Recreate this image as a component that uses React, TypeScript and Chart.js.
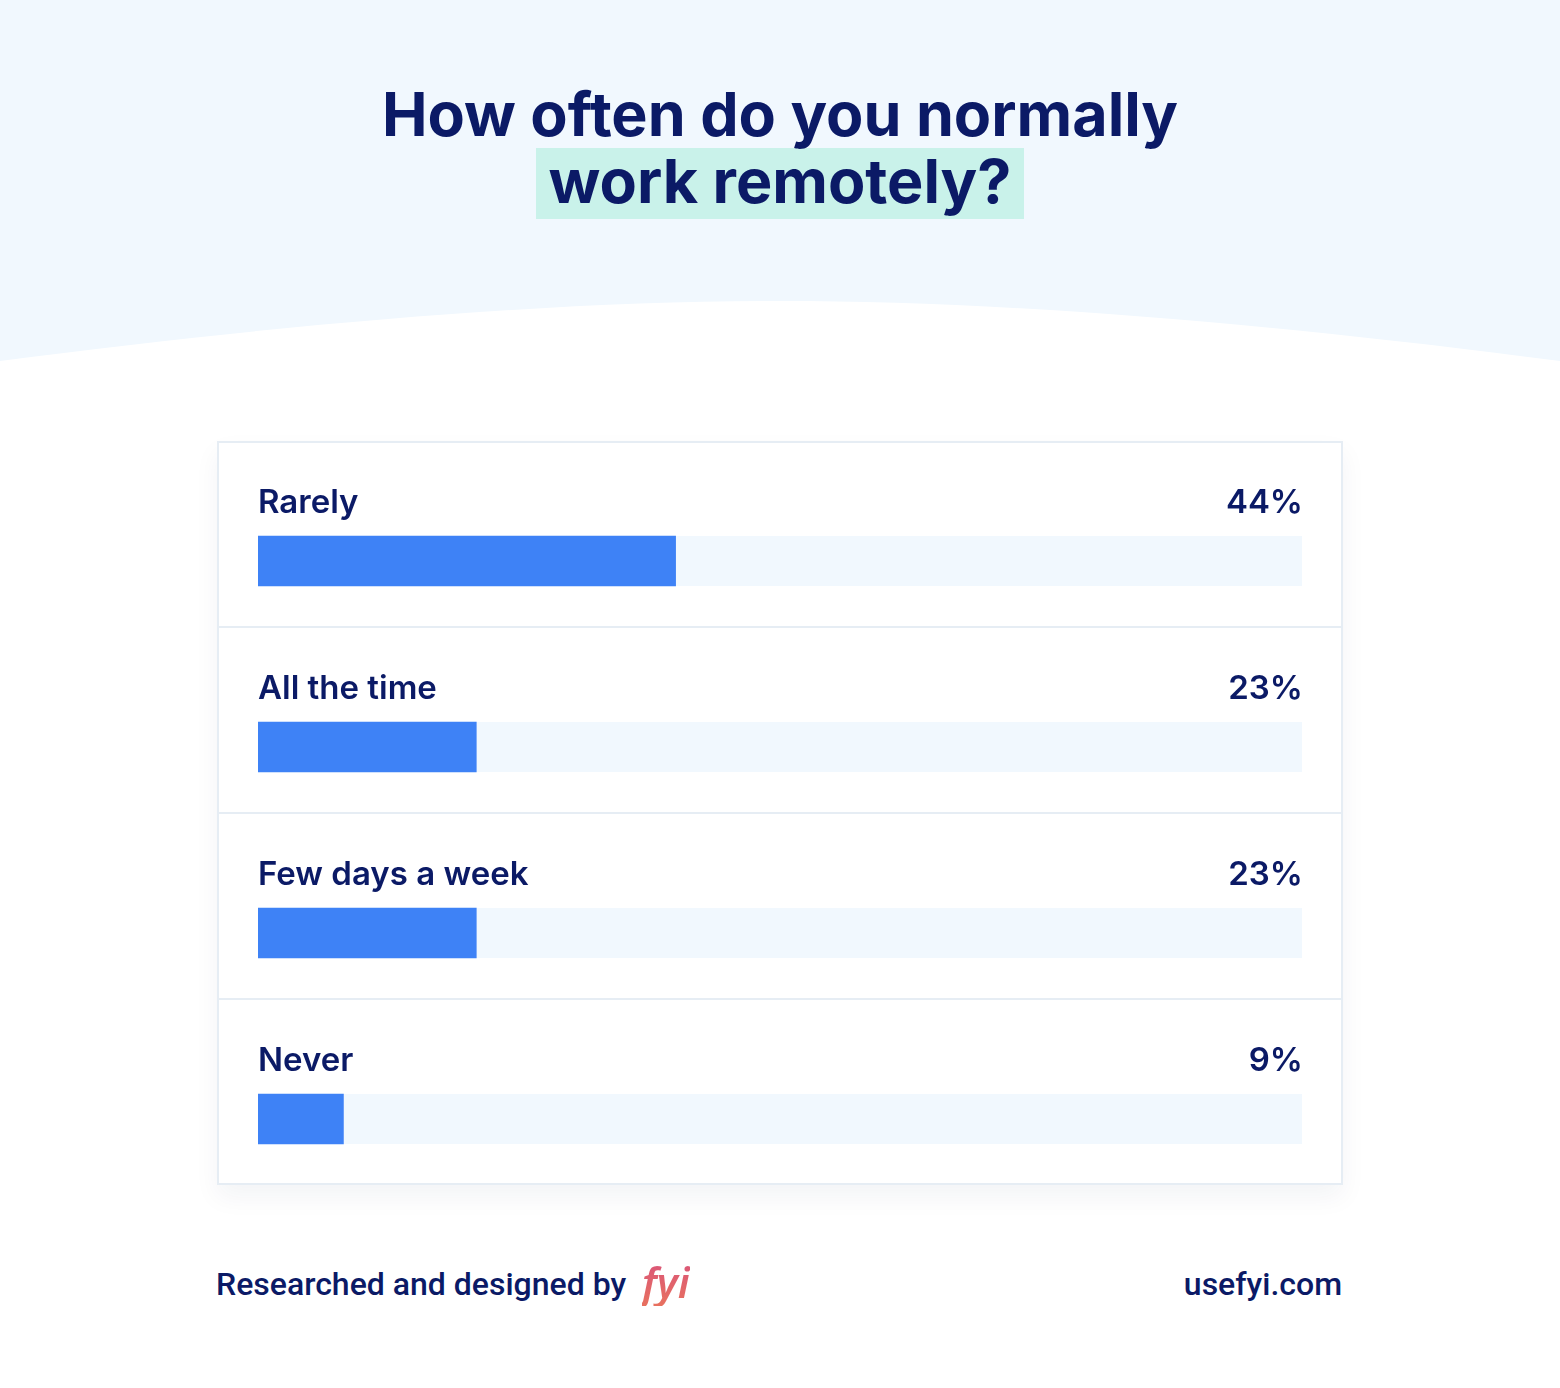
import React, { useEffect, useRef } from "react";
import { Chart, registerables } from "chart.js";

Chart.register(...registerables);

const categories = ["Rarely", "All the time", "Few days a week", "Never"];
const shares = [44, 23, 23, 9];
const valueLabels = ["44%", "23%", "23%", "9%"];
const scaleMax = 110;

const NAVY = "#0b1a66";
const BAR = "#3e82f6";
const TRACK = "#f1f8fe";
const BORDER = "#e6edf4";
const LABEL_FONT = "600 33px Inter, 'Noto Sans', sans-serif";

const CARD_W = 1126;
const CARD_H = 744;
const ROW_SHIFT = 27;

const cardPlugin = {
  id: "cardPlugin",
  beforeDatasetsDraw(chart: any) {
    const { ctx, chartArea } = chart;
    const meta = chart.getDatasetMeta(0);
    const yScale = chart.scales.y;
    ctx.save();
    ctx.fillStyle = BORDER;
    for (let i = 1; i < categories.length; i++) {
      const yb = (yScale.getPixelForValue(i - 1) + yScale.getPixelForValue(i)) / 2 - ROW_SHIFT;
      ctx.fillRect(0, Math.round(yb) - 1, CARD_W, 2);
    }
    ctx.strokeStyle = BORDER;
    ctx.lineWidth = 2;
    ctx.strokeRect(1, 1, CARD_W - 2, CARD_H - 2);
    ctx.fillStyle = TRACK;
    meta.data.forEach((el: any) => {
      const h = el.height;
      ctx.fillRect(chartArea.left, el.y - h / 2, chartArea.right - chartArea.left, h);
    });
    ctx.restore();
  },
  afterDatasetsDraw(chart: any) {
    const { ctx, chartArea } = chart;
    const meta = chart.getDatasetMeta(0);
    ctx.save();
    ctx.fillStyle = NAVY;
    ctx.font = LABEL_FONT;
    ctx.textBaseline = "alphabetic";
    meta.data.forEach((el: any, i: number) => {
      const y = el.y - el.height / 2 - 23;
      ctx.textAlign = "left";
      ctx.fillText(categories[i], chartArea.left, y);
      ctx.textAlign = "right";
      ctx.fillText(valueLabels[i], chartArea.right + 1, y);
    });
    ctx.restore();
  },
};

function BarCard() {
  const ref = useRef<HTMLCanvasElement | null>(null);
  useEffect(() => {
    if (!ref.current) return;
    const chart = new Chart(ref.current, {
      type: "bar",
      data: {
        labels: categories,
        datasets: [
          {
            data: shares,
            backgroundColor: BAR,
            borderWidth: 0,
            barThickness: 50,
          },
        ],
      },
      options: {
        indexAxis: "y",
        animation: false,
        responsive: false,
        maintainAspectRatio: false,
        layout: { padding: { left: 41, right: 41, top: ROW_SHIFT, bottom: 0 } },
        scales: {
          x: { type: "linear", min: 0, max: scaleMax, display: false },
          y: { type: "category", display: false },
        },
        plugins: { legend: { display: false }, tooltip: { enabled: false } },
      },
      plugins: [cardPlugin],
    });
    return () => chart.destroy();
  }, []);
  return (
    <canvas
      ref={ref}
      width={CARD_W}
      height={CARD_H + ROW_SHIFT}
      style={{ position: "absolute", left: 217, top: 441, width: CARD_W, height: CARD_H + ROW_SHIFT }}
    />
  );
}

export default function App() {
  const titleFont = "Inter, 'Noto Sans', sans-serif";
  const footFont = "Roboto, 'Noto Sans', sans-serif";
  return (
    <div style={{ position: "absolute", left: 0, top: 0, width: 1560, height: 1388, background: "#ffffff", overflow: "hidden" }}>
      <svg width={1560} height={400} style={{ position: "absolute", left: 0, top: 0 }}>
        <path d="M0 0 H1560 V361 C1260 322 1000 301 780 301 C560 301 300 322 0 361 Z" fill={TRACK} />
      </svg>
      <div style={{ position: "absolute", left: 536, top: 148, width: 488, height: 71, background: "#c9f2ea" }} />
      <div
        style={{
          position: "absolute",
          left: 0,
          top: 81,
          width: 1560,
          textAlign: "center",
          fontFamily: titleFont,
          fontWeight: 700,
          fontSize: 61,
          lineHeight: "67px",
          color: NAVY,
        }}
      >
        <div>How often do you normally</div>
        <div>work remotely?</div>
      </div>
      <div
        style={{
          position: "absolute",
          left: 217,
          top: 441,
          width: CARD_W,
          height: CARD_H,
          background: "#ffffff",
          boxShadow: "0 12px 24px rgba(20,40,80,0.05)",
        }}
      />
      <BarCard />
      <div
        style={{
          position: "absolute",
          left: 216,
          top: 1264,
          fontFamily: footFont,
          fontWeight: 500,
          fontSize: 32,
          lineHeight: "40px",
          color: NAVY,
          whiteSpace: "nowrap",
        }}
      >
        Researched and designed by
      </div>
      <div
        style={{
          position: "absolute",
          left: 642,
          top: 1258,
          fontFamily: "'Noto Sans', sans-serif",
          fontStyle: "italic",
          fontWeight: 600,
          fontSize: 42,
          lineHeight: "48px",
          whiteSpace: "nowrap",
          backgroundImage: "linear-gradient(180deg, #d9537a 0%, #e8715f 100%)",
          WebkitBackgroundClip: "text",
          backgroundClip: "text",
          color: "transparent",
        }}
      >
        fyi
      </div>
      <div
        style={{
          position: "absolute",
          right: 1560 - 1342,
          top: 1264,
          fontFamily: footFont,
          fontWeight: 500,
          fontSize: 32,
          lineHeight: "40px",
          color: NAVY,
          whiteSpace: "nowrap",
        }}
      >
        usefyi.com
      </div>
    </div>
  );
}
